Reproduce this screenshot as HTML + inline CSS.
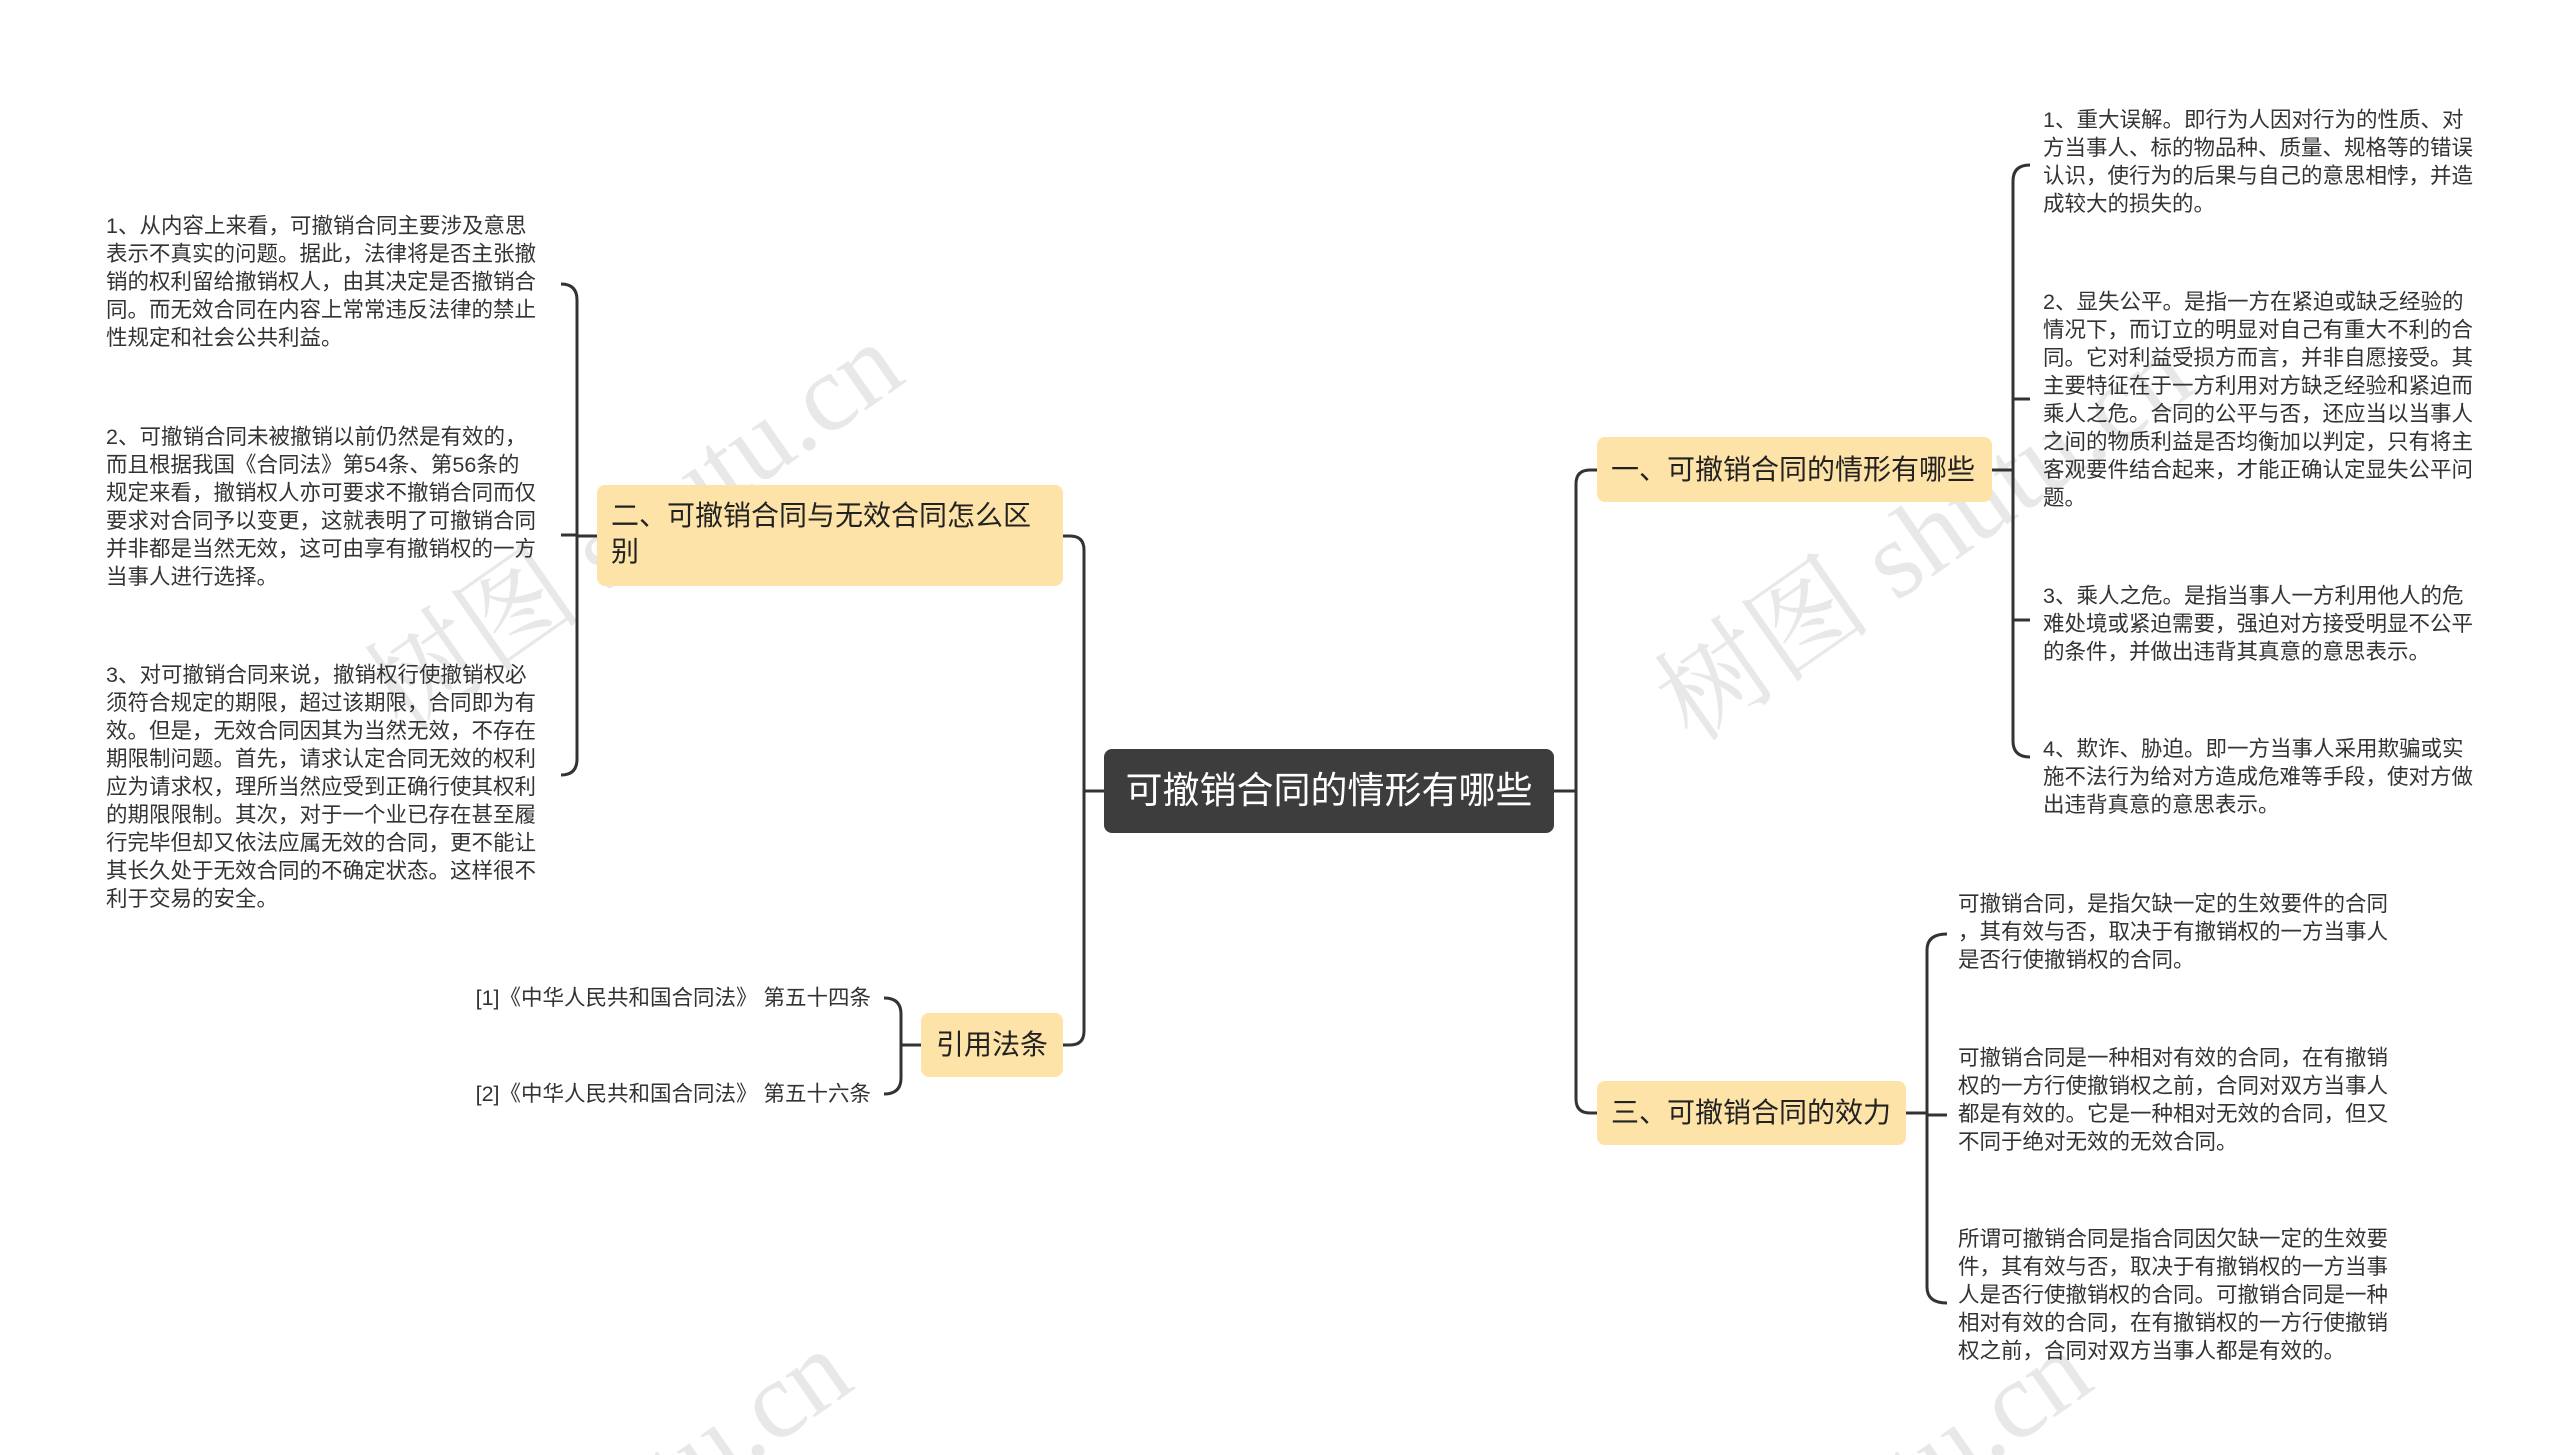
<!DOCTYPE html>
<html><head><meta charset="utf-8">
<style>
html{width:2560px;height:1455px;overflow:hidden;}
html,body{margin:0;padding:0;background:#fff;}
body{width:2560px;height:1455px;position:relative;overflow:hidden;font-family:"Liberation Sans","Noto Sans CJK SC",sans-serif;}
.n{position:absolute;box-sizing:border-box;}
.root{left:1104px;top:749px;width:450px;height:84px;background:#3d3d3d;color:#fff;border-radius:8px;font-size:37px;line-height:84px;text-align:center;}
.br{background:#fde3a7;border-radius:8px;color:#222;font-size:28px;}
.leaf{position:absolute;font-size:21.5px;line-height:28px;color:#333;white-space:nowrap;}
.clip{position:absolute;left:0;top:0;width:2560px;height:1455px;overflow:hidden;}
.wm{position:absolute;font-family:"Liberation Serif","Noto Serif CJK SC",serif;font-size:110px;color:rgba(0,0,0,0.09);transform:rotate(-35deg);white-space:nowrap;}
</style></head><body>
<div class="clip">
<div class="wm" style="left:320px;top:440px;">树图 shutu.cn</div>
<div class="wm" style="left:1610px;top:450px;">树图 shutu.cn</div>
<div class="wm" style="left:500px;top:1400px;">shutu.cn</div>
<div class="wm" style="left:1740px;top:1400px;">shutu.cn</div>
</div>
<svg width="2560" height="1455" style="position:absolute;left:0;top:0" fill="none" stroke="#333" stroke-width="3">
<path d="M1554 791 H1576"/>
<path d="M1597 470 H1590 Q1576 470 1576 484 V1099 Q1576 1113 1590 1113 H1597"/>
<path d="M1104 791 H1084"/>
<path d="M1063 536 H1070 Q1084 536 1084 550 V1031 Q1084 1045 1070 1045 H1063"/>
<path d="M597 536 H577"/>
<path d="M561 284 Q577 284 577 300 V759 Q577 775 561 775"/>
<path d="M561 535 H577"/>
<path d="M921 1045 H901"/>
<path d="M884 998 Q901 998 901 1014 V1078 Q901 1094 884 1094"/>
<path d="M1992 470 H2013"/>
<path d="M2030 165 Q2013 165 2013 181 V741 Q2013 757 2030 757"/>
<path d="M2013 399 H2030 M2013 620 H2030"/>
<path d="M1906 1113 H1927"/>
<path d="M1947 934 Q1927 934 1927 950 V1287 Q1927 1303 1947 1303"/>
<path d="M1927 1115 H1947"/>
</svg>

<div class="n root">可撤销合同的情形有哪些</div>
<div class="n br" style="left:1597px;top:437px;width:395px;height:65px;line-height:65px;padding-left:14px;">一、可撤销合同的情形有哪些</div>
<div class="n br" style="left:1597px;top:1081px;width:309px;height:64px;line-height:64px;padding-left:14px;">三、可撤销合同的效力</div>
<div class="n br" style="left:597px;top:485px;width:466px;height:101px;line-height:36px;padding:13px 14px 0 14px;">二、可撤销合同与无效合同怎么区<br>别</div>
<div class="n br" style="left:921px;top:1013px;width:142px;height:64px;line-height:64px;text-align:center;">引用法条</div>

<div class="leaf" style="left:106px;top:212px;">1、从内容上来看，可撤销合同主要涉及意思<br>表示不真实的问题。据此，法律将是否主张撤<br>销的权利留给撤销权人，由其决定是否撤销合<br>同。而无效合同在内容上常常违反法律的禁止<br>性规定和社会公共利益。</div>
<div class="leaf" style="left:106px;top:423px;">2、可撤销合同未被撤销以前仍然是有效的，<br>而且根据我国《合同法》第54条、第56条的<br>规定来看，撤销权人亦可要求不撤销合同而仅<br>要求对合同予以变更，这就表明了可撤销合同<br>并非都是当然无效，这可由享有撤销权的一方<br>当事人进行选择。</div>
<div class="leaf" style="left:106px;top:661px;">3、对可撤销合同来说，撤销权行使撤销权必<br>须符合规定的期限，超过该期限，合同即为有<br>效。但是，无效合同因其为当然无效，不存在<br>期限制问题。首先，请求认定合同无效的权利<br>应为请求权，理所当然应受到正确行使其权利<br>的期限限制。其次，对于一个业已存在甚至履<br>行完毕但却又依法应属无效的合同，更不能让<br>其长久处于无效合同的不确定状态。这样很不<br>利于交易的安全。</div>

<div class="leaf" style="right:1689px;top:984px;">[1]《中华人民共和国合同法》 第五十四条</div>
<div class="leaf" style="right:1689px;top:1080px;">[2]《中华人民共和国合同法》 第五十六条</div>

<div class="leaf" style="left:2043px;top:106px;">1、重大误解。即行为人因对行为的性质、对<br>方当事人、标的物品种、质量、规格等的错误<br>认识，使行为的后果与自己的意思相悖，并造<br>成较大的损失的。</div>
<div class="leaf" style="left:2043px;top:288px;">2、显失公平。是指一方在紧迫或缺乏经验的<br>情况下，而订立的明显对自己有重大不利的合<br>同。它对利益受损方而言，并非自愿接受。其<br>主要特征在于一方利用对方缺乏经验和紧迫而<br>乘人之危。合同的公平与否，还应当以当事人<br>之间的物质利益是否均衡加以判定，只有将主<br>客观要件结合起来，才能正确认定显失公平问<br>题。</div>
<div class="leaf" style="left:2043px;top:582px;">3、乘人之危。是指当事人一方利用他人的危<br>难处境或紧迫需要，强迫对方接受明显不公平<br>的条件，并做出违背其真意的意思表示。</div>
<div class="leaf" style="left:2043px;top:735px;">4、欺诈、胁迫。即一方当事人采用欺骗或实<br>施不法行为给对方造成危难等手段，使对方做<br>出违背真意的意思表示。</div>

<div class="leaf" style="left:1958px;top:890px;">可撤销合同，是指欠缺一定的生效要件的合同<br>，其有效与否，取决于有撤销权的一方当事人<br>是否行使撤销权的合同。</div>
<div class="leaf" style="left:1958px;top:1044px;">可撤销合同是一种相对有效的合同，在有撤销<br>权的一方行使撤销权之前，合同对双方当事人<br>都是有效的。它是一种相对无效的合同，但又<br>不同于绝对无效的无效合同。</div>
<div class="leaf" style="left:1958px;top:1225px;">所谓可撤销合同是指合同因欠缺一定的生效要<br>件，其有效与否，取决于有撤销权的一方当事<br>人是否行使撤销权的合同。可撤销合同是一种<br>相对有效的合同，在有撤销权的一方行使撤销<br>权之前，合同对双方当事人都是有效的。</div>
</body></html>
